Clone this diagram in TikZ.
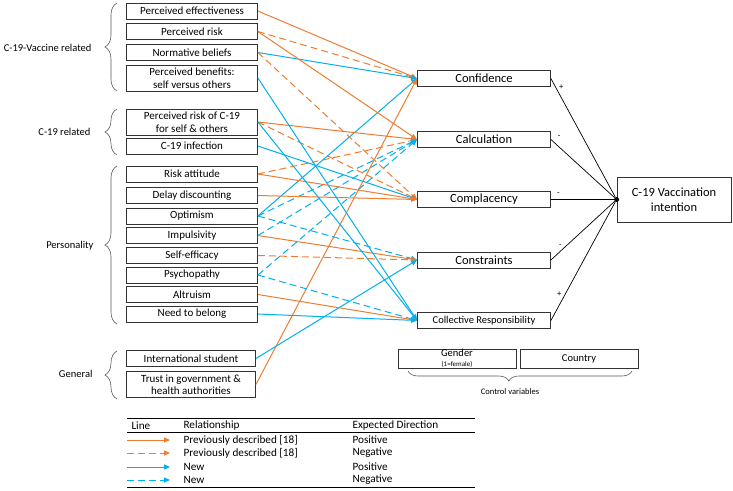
\documentclass[tikz,border=0pt]{standalone}
\usepackage{fontspec}
\setmainfont{Carlito}
\usetikzlibrary{arrows.meta,decorations.pathreplacing}
\definecolor{litorange}{HTML}{ED7D31}
\definecolor{newblue}{HTML}{00B0F0}

\begin{document}
\begin{tikzpicture}[x=1pt, y=-1pt,
    factor/.style={draw=black!80, line width=0.8pt, minimum width=131pt, minimum height=16pt, inner sep=1pt, align=center, font=\fontsize{11}{12.5}\selectfont},
    factortwo/.style={factor, minimum height=26pt},
    driver/.style={factor, minimum width=133pt, font=\fontsize{12.5}{14}\selectfont},
    arr/.style={-{Triangle[length=6pt, width=5pt]}, line width=1pt},
    lit/.style={arr, litorange},
    novel/.style={arr, newblue},
    negdash/.style={dash pattern=on 7pt off 4pt},
    grouplabel/.style={anchor=east, font=\fontsize{10.5}{12}\selectfont},
    grpbrace/.style={decorate, decoration={brace, amplitude=12pt}, draw=black!65, line width=0.6pt},
    link/.style={line width=0.7pt},
    sign/.style={font=\fontsize{8.5}{9}\selectfont},
    legtext/.style={anchor=west, font=\fontsize{11.2}{12}\selectfont}
]
\useasboundingbox (0,0) rectangle (733,490);

% Groups
\node[grouplabel] (gvac) at (95,48) {C-19-Vaccine related};
\node[grouplabel] (gcov) at (94,132) {C-19 related};
\node[grouplabel] (gpers) at (97,246) {Personality};
\node[grouplabel] (ggen) at (96,374) {General};
\draw[grpbrace] (117,91) -- (117,3);
\draw[grpbrace] (117,155) -- (117,109);
\draw[grpbrace] (117,324) -- (117,166);
\draw[grpbrace] (117,399) -- (117,351);

% Factors
\node[factor] (peff) at (192,11) {Perceived effectiveness};
\node[factor] (prisk) at (192,31.5) {Perceived risk};
\node[factor] (norm) at (192,52.5) {Normative beliefs};
\node[factortwo] (bene) at (192,78) {Perceived benefits:\\self versus others};
\node[factortwo] (prc) at (192,122) {Perceived risk of C-19\\for self \& others};
\node[factor] (infect) at (192,146) {C-19 infection};
\node[factor] (risk) at (192,174) {Risk attitude};
\node[factor] (delay) at (192,195.5) {Delay discounting};
\node[factor] (optim) at (192,216) {Optimism};
\node[factor] (impul) at (192,235.5) {Impulsivity};
\node[factor] (selfeff) at (192,255.5) {Self-efficacy};
\node[factor] (psych) at (192,275) {Psychopathy};
\node[factor] (altr) at (192,294.5) {Altruism};
\node[factor] (belong) at (192,314) {Need to belong};
\node[factor, minimum width=129pt] (intl) at (191,358.5) {International student};
\node[factortwo, minimum width=129pt] (trust) at (191,384.5) {Trust in government \&\\health authorities};

% Drivers
\node[driver] (conf) at (484,78.5) {Confidence};
\node[driver] (calc) at (484,139.5) {Calculation};
\node[driver] (compl) at (484,199.5) {Complacency};
\node[driver] (cons) at (484,260) {Constraints};
\node[driver, font=\fontsize{10.5}{12}\selectfont] (coll) at (484,320.5) {Collective Responsibility};
\node[factor, minimum width=114pt, minimum height=45pt, font=\fontsize{12.5}{15}\selectfont] (intent) at (674,199.5) {C-19 Vaccination\\intention};
\node[circle, fill=black, inner sep=0pt, minimum size=5pt] (dot) at (intent.west) {};

% Control variables
\node[factor, minimum width=118pt, minimum height=19pt, inner sep=0pt] (gender) at (457,358.5) {\fontsize{10.5}{10.5}\selectfont Gender\\[-3pt]\fontsize{7}{7}\selectfont (1=female)};
\node[factor, minimum width=118pt, minimum height=19pt, font=\fontsize{10.5}{12}\selectfont] (country) at (579,358.5) {Country};
\draw[decorate, decoration={brace, amplitude=10pt, mirror, aspect=0.45}, draw=black!65, line width=0.6pt] (408,371) -- (632,371);
\node[font=\fontsize{8.5}{10}\selectfont] (ctrl) at (510,392) {Control variables};

% Confidence
\draw[lit] (peff.east) -- (conf.west);
\draw[lit, negdash] (prisk.east) -- (conf.west);
\draw[novel] (norm.east) -- (conf.west);
\draw[novel] (optim.east) -- (conf.west);
\draw[lit] (trust.east) -- (conf.west);
% Calculation
\draw[lit] (prisk.east) -- (calc.west);
\draw[lit] (prc.east) -- (calc.west);
\draw[lit, negdash] (risk.east) -- (calc.west);
\draw[novel, negdash] (optim.east) -- (calc.west);
\draw[novel, negdash] (impul.east) -- (calc.west);
\draw[novel, negdash] (psych.east) -- (calc.west);
% Complacency
\draw[lit, negdash] (norm.east) -- (compl.west);
\draw[lit, negdash] (prc.east) -- (compl.west);
\draw[novel] (infect.east) -- (compl.west);
\draw[lit] (risk.east) -- (compl.west);
\draw[lit] (delay.east) -- (compl.west);
% Constraints
\draw[novel, negdash] (optim.east) -- (cons.west);
\draw[lit] (impul.east) -- (cons.west);
\draw[lit, negdash] (selfeff.east) -- (cons.west);
\draw[novel] (intl.east) -- (cons.west);
% Collective Responsibility
\draw[novel] (bene.east) -- (coll.west);
\draw[novel] (prc.east) -- (coll.west);
\draw[novel, negdash] (psych.east) -- (coll.west);
\draw[lit] (altr.east) -- (coll.west);
\draw[novel] (belong.east) -- (coll.west);

% Intention
\draw[link] (conf.east) -- (dot) node[sign, pos=0.07, right] {+};
\draw[link] (calc.east) -- (dot) node[sign, pos=0.05, above right] {-};
\draw[link] (compl.east) -- (dot) node[sign, pos=0.12, above] {-};
\draw[link] (cons.east) -- (dot) node[sign, pos=0.15, above] {-};
\draw[link] (coll.east) -- (dot) node[sign, pos=0.22, left] {+};

% Legend
\draw[line width=1pt] (127,418) -- (475,418);
\draw[line width=0.6pt] (127,432) -- (475,432);
\draw[line width=1pt] (127,487) -- (475,487);
\node[legtext] (hline) at (128,426) {Line};
\node[legtext] (hrel) at (180,426) {Relationship};
\node[legtext] (hdir) at (349,426) {Expected Direction};
\coordinate (ka) at (127,440); \coordinate (kb) at (170,440);
\coordinate (kc) at (127,453); \coordinate (kd) at (170,453);
\coordinate (ke) at (127,467); \coordinate (kf) at (170,467);
\coordinate (kg) at (127,480); \coordinate (kh) at (170,480);
\draw[lit] (ka) -- (kb);
\draw[lit, negdash] (kc) -- (kd);
\draw[novel] (ke) -- (kf);
\draw[novel, negdash] (kg) -- (kh);
\node[legtext] (r1) at (180,440) {Previously described [18]};
\node[legtext] (r2) at (180,453) {Previously described [18]};
\node[legtext] (r3) at (180,467) {New};
\node[legtext] (r4) at (180,480) {New};
\node[legtext] (d1) at (349,440) {Positive};
\node[legtext] (d2) at (349,453) {Negative};
\node[legtext] (d3) at (349,467) {Positive};
\node[legtext] (d4) at (349,480) {Negative};

\end{tikzpicture}
\end{document}
